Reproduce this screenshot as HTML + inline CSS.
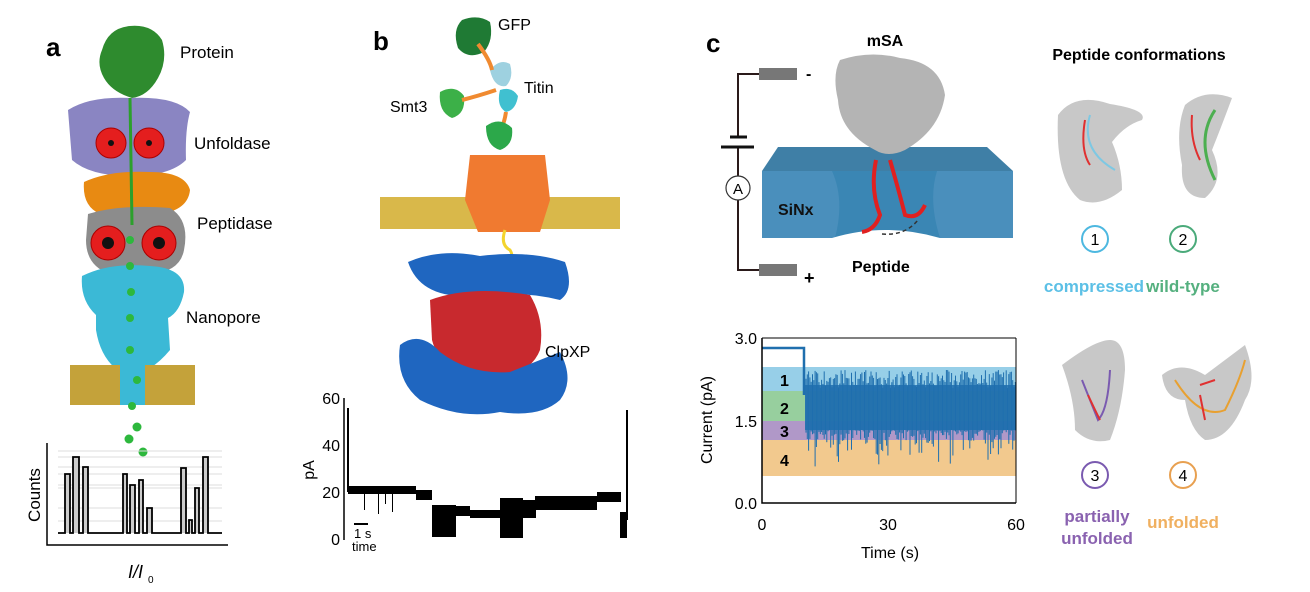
<!DOCTYPE html>
<html><head><meta charset="utf-8"><style>
body{margin:0;background:#fff;width:1310px;height:592px;overflow:hidden}
svg{display:block}
text{font-family:"Liberation Sans",Arial,sans-serif}
</style></head><body>
<svg width="1310" height="592" viewBox="0 0 1310 592" xmlns="http://www.w3.org/2000/svg">
<!-- Panel a -->
<text x="46" y="56" font-size="26" font-weight="bold">a</text>
<path d="M102,50 Q108,28 130,26 Q152,24 162,40 Q168,60 158,78 Q148,96 132,98 Q112,92 104,78 Q96,64 102,50Z" fill="#2e8b2e"/>
<text x="180" y="58" font-size="17">Protein</text>
<path d="M68,110 Q90,96 130,98 Q175,96 190,112 Q185,130 186,160 Q170,176 130,176 Q90,176 72,160 Q70,135 68,110Z" fill="#8a85c2"/>
<text x="194" y="149" font-size="17">Unfoldase</text>
<path d="M84,182 Q110,170 150,172 Q185,172 190,190 Q188,210 160,214 L100,214 Q82,206 84,182Z" fill="#e88a12"/>
<path d="M88,214 Q120,204 170,208 Q190,220 184,250 Q180,272 150,274 L110,274 Q86,266 86,240Z" fill="#8c8c8c"/>
<text x="197" y="229" font-size="17">Peptidase</text>
<path d="M82,276 Q110,262 150,266 Q186,268 184,292 Q180,312 168,318 L170,350 Q160,362 150,368 L150,405 L115,405 L115,368 Q100,355 96,330 L96,315 Q80,300 82,276Z" fill="#3bb9d6"/>
<text x="186" y="323" font-size="17">Nanopore</text>
<rect x="70" y="365" width="50" height="40" fill="#c4a23a"/>
<rect x="145" y="365" width="50" height="40" fill="#c4a23a"/>
<g fill="#e41e1e" stroke="#a00" stroke-width="1">
<circle cx="111" cy="143" r="15"/><circle cx="149" cy="143" r="15"/>
<circle cx="108" cy="243" r="17"/><circle cx="159" cy="243" r="17"/></g>
<g fill="#111"><circle cx="111" cy="143" r="3"/><circle cx="149" cy="143" r="3"/><circle cx="108" cy="243" r="6"/><circle cx="159" cy="243" r="6"/></g>
<line x1="130" y1="98" x2="132" y2="225" stroke="#2ca02c" stroke-width="3"/>
<g fill="#2db83d"><circle cx="130" cy="240" r="4"/><circle cx="130" cy="266" r="4"/><circle cx="131" cy="292" r="4"/><circle cx="130" cy="318" r="4"/><circle cx="130" cy="350" r="4"/><circle cx="137" cy="380" r="4"/><circle cx="132" cy="406" r="4"/>
<circle cx="137" cy="427" r="4.5"/><circle cx="129" cy="439" r="4.5"/><circle cx="143" cy="452" r="4.5"/></g>
<g stroke="#ddd" stroke-width="1"><line x1="58" y1="451" x2="222" y2="451"/><line x1="58" y1="457" x2="222" y2="457"/><line x1="58" y1="467" x2="222" y2="467"/><line x1="58" y1="474" x2="222" y2="474"/><line x1="58" y1="485" x2="222" y2="485"/><line x1="58" y1="488" x2="222" y2="488"/><line x1="58" y1="508" x2="222" y2="508"/><line x1="58" y1="521" x2="222" y2="521"/></g>
<polyline fill="#ccc" stroke="#000" stroke-width="1.8" points="58,533 65,533 65,474 70,474 70,533 73,533 73,457 79,457 79,533 83,533 83,467 88,467 88,533 123,533 123,474 127,474 127,533 130,533 130,485 135,485 135,533 139,533 139,480 143,480 143,533 147,533 147,508 152,508 152,533 181,533 181,468 186,468 186,533 189,533 189,520 192,520 192,533 195,533 195,488 199,488 199,533 203,533 203,457 208,457 208,533 222,533"/>
<polyline fill="none" stroke="#000" stroke-width="1.5" points="47,443 47,545 228,545"/>
<text transform="translate(40,495) rotate(-90)" font-size="17" text-anchor="middle">Counts</text>
<text x="128" y="578" font-size="18" font-style="italic">I/I</text><text x="148" y="583" font-size="10">0</text>

<!-- Panel b -->
<text x="373" y="50" font-size="26" font-weight="bold">b</text>
<path d="M462,20 Q478,14 490,22 Q494,40 484,52 Q468,60 458,48 Q452,30 462,20Z" fill="#1f7a34"/>
<text x="498" y="30" font-size="16">GFP</text>
<path d="M490,70 Q500,58 510,64 Q514,78 506,86 Q494,88 490,70Z" fill="#9ed1e0"/>
<path d="M500,90 Q512,86 518,96 Q516,110 506,112 Q496,106 500,90Z" fill="#40c0d0"/>
<text x="524" y="93" font-size="16">Titin</text>
<path d="M440,92 Q455,84 464,96 Q466,114 452,118 Q438,112 440,92Z" fill="#3cb048"/>
<text x="390" y="112" font-size="16">Smt3</text>
<path d="M478,44 Q490,60 492,70 M462,100 Q478,96 496,90 M506,112 Q504,125 500,130" stroke="#f08a30" stroke-width="4" fill="none"/>
<path d="M486,126 Q500,116 512,128 Q514,145 500,150 Q486,146 486,126Z" fill="#2ca84a"/>
<rect x="380" y="197" width="240" height="32" fill="#d9b84a"/>
<path d="M470,155 L545,155 L550,200 L540,232 L478,232 L465,200Z" fill="#f07a30"/>
<path d="M505,230 Q500,245 510,250 Q515,258 508,266" stroke="#f3d42e" stroke-width="3" fill="none"/>
<path d="M408,262 Q440,248 480,256 Q530,250 565,262 Q575,290 560,300 Q520,290 470,296 Q420,298 408,262Z" fill="#1f66c0"/>
<path d="M430,300 Q470,285 530,295 Q545,320 540,350 Q530,376 490,378 Q440,372 432,340Z" fill="#c8292e"/>
<path d="M400,345 Q420,330 440,352 Q470,375 510,372 Q540,360 560,352 Q575,380 560,400 Q540,418 500,412 Q460,420 420,400 Q395,380 400,345Z" fill="#1f66c0"/>
<text x="545" y="357" font-size="16">ClpXP</text>
<line x1="344" y1="398" x2="344" y2="540" stroke="#000" stroke-width="1.5"/>
<g font-size="16" text-anchor="end"><text x="340" y="404">60</text><text x="340" y="451">40</text><text x="340" y="498">20</text><text x="340" y="545">0</text></g>
<text transform="translate(314,470) rotate(-90)" font-size="16" text-anchor="middle">pA</text>
<g fill="#000">
<rect x="347" y="408" width="2" height="84"/>
<rect x="348" y="486" width="68" height="8"/>
<rect x="416" y="490" width="16" height="10"/>
<rect x="432" y="505" width="24" height="32"/>
<rect x="455" y="506" width="15" height="10"/>
<rect x="470" y="510" width="30" height="8"/>
<rect x="500" y="498" width="23" height="40"/>
<rect x="523" y="500" width="13" height="18"/>
<rect x="535" y="496" width="62" height="14"/>
<rect x="597" y="492" width="24" height="10"/>
<rect x="620" y="512" width="7" height="26"/>
<rect x="626" y="410" width="2" height="110"/>
<rect x="364" y="494" width="1" height="16"/><rect x="378" y="494" width="1" height="20"/><rect x="385" y="494" width="1" height="10"/><rect x="392" y="494" width="1" height="18"/>
<rect x="354" y="523" width="14" height="2"/></g>
<text x="354" y="538" font-size="13">1 s</text>
<text x="352" y="551" font-size="13">time</text>

<!-- Panel c -->
<text x="706" y="52" font-size="26" font-weight="bold">c</text>
<text x="885" y="46" font-size="16" font-weight="bold" text-anchor="middle">mSA</text>
<path d="M760,74 H738 V137 M738,147 V176 M738,200 V270 H760" fill="none" stroke="#2a1a1a" stroke-width="2"/>
<line x1="730" y1="137" x2="747" y2="137" stroke="#111" stroke-width="3"/>
<line x1="721" y1="147" x2="754" y2="147" stroke="#111" stroke-width="3"/>
<circle cx="738" cy="188" r="12" fill="#fff" stroke="#333" stroke-width="1.2"/>
<text x="738" y="194" font-size="15" text-anchor="middle">A</text>
<rect x="759" y="68" width="38" height="12" fill="#777"/><rect x="759" y="264" width="38" height="12" fill="#777"/>
<text x="806" y="79" font-size="16" font-weight="bold">-</text>
<text x="804" y="284" font-size="18" font-weight="bold">+</text>
<path d="M778,147 L987,147 L1013,171 L762,171Z" fill="#3f7fa6"/>
<path d="M762,171 L1013,171 L1013,238 L762,238Z" fill="#4a8fbc"/>
<path d="M832,171 Q845,200 835,238 L940,238 Q928,200 937,171Z" fill="#3a86b4"/>
<path d="M832,238 Q885,222 940,238Z" fill="#fff"/>
<path d="M840,60 Q870,50 900,58 Q940,62 945,95 Q940,130 905,150 Q888,158 875,150 Q840,132 838,100 Q832,75 840,60Z" fill="#b4b4b4"/>
<path d="M876,160 Q870,190 880,215 Q875,230 862,232 M890,160 Q900,195 905,215 Q918,220 925,205" stroke="#e02020" stroke-width="4" fill="none"/>
<path d="M882,234 Q905,236 918,220" stroke="#333" stroke-width="1.5" stroke-dasharray="4,3" fill="none"/>
<text x="778" y="215" font-size="16" font-weight="bold" fill="#111">SiNx</text>
<text x="852" y="272" font-size="16" font-weight="bold">Peptide</text>

<!-- chart -->
<rect x="762" y="367" width="254" height="24" fill="#97cfe8"/>
<rect x="762" y="391" width="254" height="30" fill="#97cf9e"/>
<rect x="762" y="421" width="254" height="19" fill="#b098c8"/>
<rect x="762" y="440" width="254" height="36" fill="#f2c98e"/>
<g font-size="16" font-weight="bold"><text x="780" y="386">1</text><text x="780" y="414">2</text><text x="780" y="437">3</text><text x="780" y="466">4</text></g>
<polyline points="762,348 804,348 804,395" fill="none" stroke="#1f6fae" stroke-width="2.5"/>
<g id="noise" stroke="#1f6fae" stroke-width="1"></g>
<rect x="805" y="385" width="211" height="45" fill="#1f6fae" opacity="0.85"/>
<polyline points="762,338 762,503 1016,503" fill="none" stroke="#000" stroke-width="1.5"/>
<line x1="1016" y1="338" x2="1016" y2="503" stroke="#000" stroke-width="1"/>
<line x1="762" y1="338" x2="1016" y2="338" stroke="#000" stroke-width="1"/>
<g font-size="16" text-anchor="end"><text x="757" y="344">3.0</text><text x="757" y="427">1.5</text><text x="757" y="509">0.0</text></g>
<g font-size="16" text-anchor="middle"><text x="762" y="530">0</text><text x="888" y="530">30</text><text x="1016" y="530">60</text></g>
<text x="890" y="558" font-size="16" text-anchor="middle">Time (s)</text>
<text transform="translate(712,420) rotate(-90)" font-size="16" text-anchor="middle">Current (pA)</text>

<!-- Peptide conformations -->
<text x="1139" y="60" font-size="16" font-weight="bold" text-anchor="middle">Peptide conformations</text>
<g fill="#c8c8c8">
<path d="M1058,115 Q1075,92 1110,104 Q1148,110 1142,120 Q1125,125 1112,142 Q1122,165 1122,190 Q1100,208 1080,200 Q1055,180 1058,115Z"/>
<path d="M1185,105 Q1205,88 1232,98 Q1222,125 1212,150 Q1226,180 1205,198 Q1180,198 1182,165 Q1175,130 1185,105Z"/>
<path d="M1062,365 Q1095,340 1110,340 Q1125,340 1125,370 Q1122,410 1110,440 Q1090,445 1075,430 Q1075,400 1062,365Z"/>
<path d="M1162,375 Q1180,360 1205,375 Q1225,360 1245,345 Q1258,380 1245,400 Q1230,440 1205,440 Q1190,430 1185,400 Q1165,400 1162,375Z"/>
</g>
<g fill="none" stroke-width="2"><path d="M1085,120 Q1080,150 1090,165" stroke="#e03030"/><path d="M1090,115 Q1080,150 1115,170" stroke="#7ec8e3"/>
<path d="M1192,115 Q1190,140 1200,160" stroke="#e03030"/><path d="M1215,110 Q1195,140 1215,180" stroke="#4caf50" stroke-width="3"/>
<path d="M1082,380 Q1090,400 1098,420 Q1108,410 1110,370" stroke="#7a5ab0"/><path d="M1088,395 Q1095,410 1100,420" stroke="#e03030"/>
<path d="M1175,380 Q1200,420 1225,410 Q1240,380 1245,360" stroke="#e8a030"/><path d="M1200,385 L1215,380 M1200,395 L1205,420" stroke="#e03030"/></g>
<circle cx="1095" cy="239" r="13" fill="#fff" stroke="#4db8e0" stroke-width="2"/>
<circle cx="1183" cy="239" r="13" fill="#fff" stroke="#4aaa7a" stroke-width="2"/>
<circle cx="1095" cy="475" r="13" fill="#fff" stroke="#7a5ab0" stroke-width="2"/>
<circle cx="1183" cy="475" r="13" fill="#fff" stroke="#e8a050" stroke-width="2"/>
<g font-size="16" text-anchor="middle"><text x="1095" y="245">1</text><text x="1183" y="245">2</text><text x="1095" y="481">3</text><text x="1183" y="481">4</text></g>
<g font-size="17" font-weight="bold" text-anchor="middle">
<text x="1094" y="292" fill="#5cc0e6">compressed</text>
<text x="1183" y="292" fill="#55b07f">wild-type</text>
<text x="1097" y="522" fill="#8a62b0">partially</text>
<text x="1097" y="544" fill="#8a62b0">unfolded</text>
<text x="1183" y="528" fill="#f0b060">unfolded</text></g>
</svg>
<script>
(function(){var g=document.getElementById('noise'),s=7,h='';
function r(){s=(s*9301+49297)%233280;return s/233280;}
for(var x=806;x<1016;x+=1.3){var t=370+r()*18,b=430+r()*r()*40;h+='<line x1="'+x.toFixed(1)+'" y1="'+t.toFixed(1)+'" x2="'+x.toFixed(1)+'" y2="'+b.toFixed(1)+'"/>';}
g.innerHTML=h;})();
</script>
</body></html>
